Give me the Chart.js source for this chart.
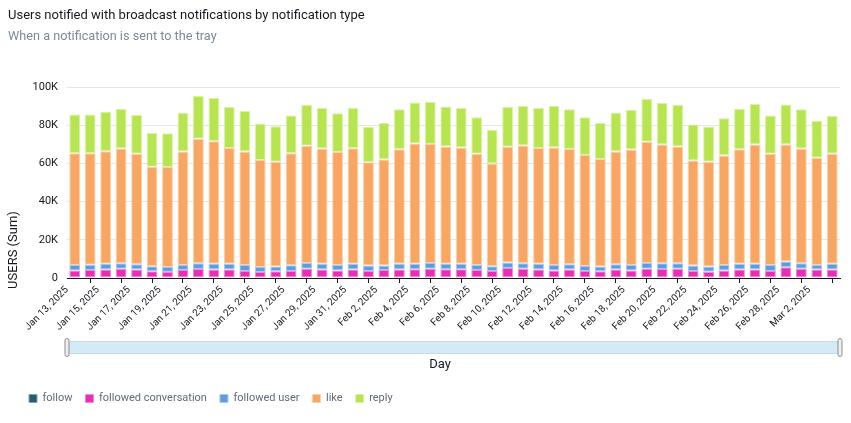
<!DOCTYPE html>
<html>
<head>
<meta charset="utf-8">
<script src="https://cdn.jsdelivr.net/npm/chart.js@4.4.1/dist/chart.umd.min.js"></script>
<style>
  html, body { margin: 0; padding: 0; background: #fff; }
  #wrap { position: relative; width: 851px; height: 423px; font-family: Roboto, sans-serif; }
  #title { position: absolute; left: 8px; top: 7px; font-size: 13px; color: #16191f; }
  #subtitle { position: absolute; left: 8px; top: 28px; font-size: 12.7px; color: #7d8998; }
  canvas { position: absolute; left: 0; top: 0; }
</style>
</head>
<body>
<div id="wrap">
  <canvas id="chart" width="851" height="423"></canvas>
  <div id="title">Users notified with broadcast notifications by notification type</div>
  <div id="subtitle">When a notification is sent to the tray</div>
</div>
<script>
const days = [
  'Jan 13, 2025','Jan 14, 2025','Jan 15, 2025','Jan 16, 2025','Jan 17, 2025','Jan 18, 2025','Jan 19, 2025',
  'Jan 20, 2025','Jan 21, 2025','Jan 22, 2025','Jan 23, 2025','Jan 24, 2025','Jan 25, 2025','Jan 26, 2025',
  'Jan 27, 2025','Jan 28, 2025','Jan 29, 2025','Jan 30, 2025','Jan 31, 2025','Feb 1, 2025','Feb 2, 2025',
  'Feb 3, 2025','Feb 4, 2025','Feb 5, 2025','Feb 6, 2025','Feb 7, 2025','Feb 8, 2025','Feb 9, 2025',
  'Feb 10, 2025','Feb 11, 2025','Feb 12, 2025','Feb 13, 2025','Feb 14, 2025','Feb 15, 2025','Feb 16, 2025',
  'Feb 17, 2025','Feb 18, 2025','Feb 19, 2025','Feb 20, 2025','Feb 21, 2025','Feb 22, 2025','Feb 23, 2025',
  'Feb 24, 2025','Feb 25, 2025','Feb 26, 2025','Feb 27, 2025','Feb 28, 2025','Mar 1, 2025','Mar 2, 2025',
  'Mar 3, 2025'
];

const follow = [
  0,0,0,0,0,0,0,0,0,0,0,0,0,0,0,0,0,0,0,0,0,0,0,0,0,
  0,0,0,0,0,0,0,0,0,0,0,0,0,0,0,0,0,0,0,0,0,0,0,0,0
];
const followedConversation = [
  3900,4200,4400,4900,4400,3500,3200,4200,4700,4400,4400,3700,3200,3500,3700,4900,4400,3900,4400,3700,4200,4400,4600,4900,4600,
  4600,4200,3700,5300,4900,4400,3900,4400,3700,3500,4400,3900,4900,4700,4900,3700,3300,3900,4400,4400,3700,5600,4900,4400,4400
];
const followedUser = [
  2900,2800,3000,2800,2800,2600,2600,2600,3000,3000,3000,3100,2600,2500,3000,3000,3000,2900,3000,2800,2300,3000,2900,3000,2900,
  2800,2600,2400,2800,2800,3000,2900,2800,2600,2500,2800,2900,3000,3000,2800,2800,2700,2900,3000,3000,3100,3000,2800,2400,3000
];
const like = [
  58500,58300,59000,60100,57900,52200,52300,59400,65200,64200,60600,59400,56000,54900,58600,61300,60400,59200,60500,54100,55500,60000,62900,62200,61300,
  60900,58300,53800,60600,61700,60600,61500,60400,58100,56300,59000,60500,63400,62200,61100,55000,54900,57300,60000,62500,58300,61300,60100,56200,57700
];
const reply = [
  20300,20300,20600,20800,20200,17700,17700,20300,22400,22600,21500,21200,19100,18600,19800,21500,21200,20300,21200,18600,19100,21000,21500,22200,21000,
  20700,19000,17700,20800,20800,21000,21900,20800,19700,18800,20300,20600,22400,21900,21900,18900,18400,19600,21200,21200,20000,21000,20600,19300,19800
];

const yTicks = [0, 20000, 40000, 60000, 80000, 100000];

const seriesNames = ['follow', 'followed conversation', 'followed user', 'like', 'reply'];
const seriesColors = ['#235d76', '#e72fb6', '#5b9de0', '#f9a662', '#b6e550'];
const seriesBorders = ['#7ea3b4', '#f08ad5', '#a6c9ee', '#fcd0aa', '#dcf3a6'];
const seriesData = [follow, followedConversation, followedUser, like, reply];

const FONT = 'Roboto';

const extras = {
  id: 'extras',
  afterDraw(chart) {
    const ctx = chart.ctx;
    const a = chart.chartArea;
    ctx.save();
    // range slider under the x axis
    const sy = 341, sh = 13;
    ctx.fillStyle = '#d4eaf6';
    ctx.fillRect(a.left, sy, a.right - a.left, sh);
    ctx.strokeStyle = '#c3dcec';
    ctx.lineWidth = 1;
    ctx.strokeRect(a.left + 0.5, sy + 0.5, a.right - a.left - 1, sh - 1);
    [a.left, a.right].forEach(x => {
      ctx.fillStyle = '#eeeeee';
      ctx.strokeStyle = '#8d8d8d';
      ctx.beginPath();
      ctx.roundRect(x - 2, sy - 2.5, 4, sh + 5, 2);
      ctx.fill();
      ctx.stroke();
    });
    // x axis title
    ctx.fillStyle = '#16191f';
    ctx.font = '13px ' + FONT;
    ctx.textAlign = 'center';
    ctx.textBaseline = 'middle';
    ctx.fillText('Day', 440, 365);
    // y axis title
    ctx.translate(14, 250);
    ctx.rotate(-Math.PI / 2);
    ctx.fillText('USERS (Sum)', 0, 0);
    ctx.restore();
  }
};

new Chart(document.getElementById('chart'), {
  type: 'bar',
  data: {
    labels: days,
    datasets: seriesNames.map((name, i) => ({
      label: name,
      data: seriesData[i],
      backgroundColor: seriesColors[i],
      borderColor: seriesBorders[i],
      borderWidth: 1,
      borderSkipped: false,
      categoryPercentage: 0.7,
      barPercentage: 1.0
    }))
  },
  options: {
    responsive: false,
    animation: false,
    layout: { padding: { left: 16, right: 11, top: 87, bottom: 9 } },
    plugins: {
      tooltip: { enabled: false },
      legend: {
        position: 'bottom',
        align: 'start',
        labels: {
          boxWidth: 8,
          boxHeight: 8,
          padding: 13,
          color: '#5f6b7a',
          font: { family: FONT, size: 11 }
        }
      }
    },
    scales: {
      x: {
        stacked: true,
        afterFit: s => { s.height = 102; },
        grid: { display: true, drawOnChartArea: false, offset: true, tickLength: 5, color: '#16191f' },
        border: { display: true, color: '#16191f' },
        ticks: {
          autoSkip: false,
          maxRotation: 45,
          minRotation: 45,
          padding: 1,
          labelOffset: -7.7,
          color: '#16191f',
          font: { family: FONT, size: 10 },
          callback: function (v, i) { return i % 2 === 0 ? days[i] : null; }
        }
      },
      y: {
        stacked: true,
        min: 0,
        max: 100000,
        afterFit: s => { s.width = 51; },
        afterBuildTicks: s => { s.ticks = yTicks.map(v => ({ value: v })); },
        grid: { color: '#e6e6e6', drawTicks: false },
        border: { display: false },
        ticks: {
          padding: 9,
          color: '#16191f',
          font: { family: FONT, size: 11 },
          callback: v => v === 0 ? '0' : (v / 1000) + 'K'
        }
      }
    }
  },
  plugins: [extras]
});
</script>
</body>
</html>
